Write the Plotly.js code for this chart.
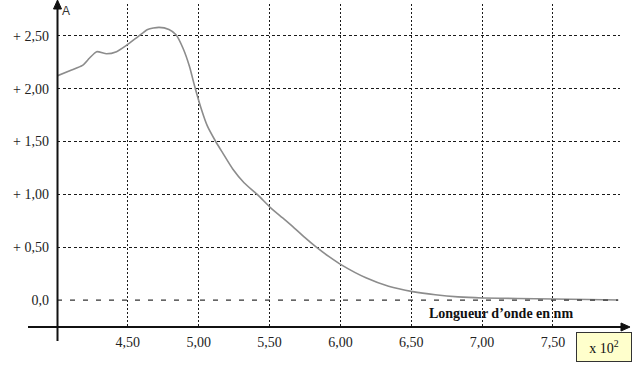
<!DOCTYPE html>
<html>
<head>
<meta charset="utf-8">
<script src="https://cdn.plot.ly/plotly-3.0.1.min.js"></script>
<style>html,body{margin:0;padding:0;background:#fff;}#chart{width:640px;height:385px;}</style>
</head>
<body>
<div id="chart"></div>
<script>
// Wavelength (x 10^2 nm)
const lambda = [4.00,4.09,4.18,4.23,4.28,4.35,4.42,4.49,4.57,4.64,4.72,4.79,4.84,4.89,4.935,4.97,5.02,5.06,5.12,5.17,5.24,5.32,5.42,5.51,5.59,5.66,5.75,5.83,5.92,6.01,6.18,6.34,6.51,6.67,6.83,7.00,7.25,7.50,7.75,7.96];
// Absorbance A
const absorbance = [2.12,2.17,2.22,2.29,2.35,2.33,2.35,2.41,2.49,2.56,2.58,2.56,2.51,2.38,2.21,2.03,1.80,1.65,1.50,1.39,1.24,1.11,0.99,0.87,0.78,0.70,0.59,0.50,0.41,0.33,0.21,0.13,0.08,0.05,0.03,0.02,0.015,0.01,0.005,0.0];

const xTickVals = [4.5,5.0,5.5,6.0,6.5,7.0,7.5];
const xTickText = ['4,50','5,00','5,50','6,00','6,50','7,00','7,50'];
const yTickVals = [0.5,1.0,1.5,2.0,2.5];
const yTickText = ['+ 0,50','+ 1,00','+ 1,50','+ 2,00','+ 2,50'];
const zeroVals = [0];
const zeroText = ['0,0'];

const serif = 'Liberation Serif, Times New Roman, serif';
const XR = [4.0, 7.973];
const YR = [-0.255, 2.801];

const traces = [
  {
    x: lambda, y: absorbance, type: 'scatter', mode: 'lines',
    line: {color: '#8c8c8c', width: 1.6, shape: 'spline', smoothing: 0.6},
    hoverinfo: 'skip', showlegend: false
  },
  {
    x: [lambda[0], lambda[lambda.length-1]], y: [0, 0], yaxis: 'y2',
    type: 'scatter', mode: 'lines',
    line: {color: '#333', width: 1.3, dash: '5px,8px'},
    hoverinfo: 'skip', showlegend: false
  }
];

const layout = {
  width: 640, height: 385,
  margin: {l: 57, r: 20, t: 4, b: 58},
  paper_bgcolor: '#fff', plot_bgcolor: '#fff',
  showlegend: false, hovermode: false,
  xaxis: {
    range: XR, tickvals: xTickVals, ticktext: xTickText,
    showgrid: true, gridcolor: '#1a1a1a', gridwidth: 1, griddash: '2px,2px',
    showline: false, zeroline: false, ticks: '',
    ticklabelstandoff: 5,
    tickfont: {family: serif, size: 14, color: '#222'}
  },
  yaxis: {
    range: YR, tickvals: yTickVals, ticktext: yTickText,
    showgrid: true, gridcolor: '#1a1a1a', gridwidth: 1, griddash: '3px,2.5px',
    showline: false, zeroline: false, ticks: '',
    ticklabelstandoff: 7,
    tickfont: {family: serif, size: 14, color: '#222'}
  },
  yaxis2: {
    range: YR, overlaying: 'y', side: 'left', tickvals: zeroVals, ticktext: zeroText,
    showgrid: false, showline: false, zeroline: false, ticks: '',
    ticklabelstandoff: 7,
    tickfont: {family: serif, size: 14, color: '#222'}
  },
  shapes: [
    {type: 'line', xref: 'paper', yref: 'paper', x0: -0.0515, x1: 1.004, y0: 0, y1: 0,
     line: {color: '#111', width: 2}},
    {type: 'path', xref: 'paper', yref: 'paper',
     path: 'M 1.0178 0 L 1.0018 0.0124 L 1.0018 -0.0124 Z',
     fillcolor: '#111', line: {color: '#111', width: 1}},
    {type: 'line', xref: 'paper', yref: 'paper', x0: 0.0009, x1: 0.0009, y0: -0.0433, y1: 0.99,
     line: {color: '#111', width: 2}},
    {type: 'path', xref: 'paper', yref: 'paper',
     path: 'M 0.0009 1.0124 L -0.0062 0.9845 L 0.008 0.9845 Z',
     fillcolor: '#111', line: {color: '#111', width: 1}}
  ],
  annotations: [
    {xref: 'paper', yref: 'paper', x: 0.0155, y: 0.979, text: 'A', showarrow: false,
     xanchor: 'center', yanchor: 'middle',
     font: {family: 'Liberation Sans, Arial, sans-serif', size: 12, color: '#333'}},
    {xref: 'paper', yref: 'paper', x: 0.7886, y: 0.0433, text: '<b>Longueur d’onde en nm</b>',
     showarrow: false, xanchor: 'center', yanchor: 'middle',
     font: {family: serif, size: 14, color: '#111'}},
    {xref: 'paper', yref: 'paper', x: 0.9716, y: -0.061, text: 'x 10<sup>2</sup>',
     showarrow: false, xanchor: 'center', yanchor: 'middle',
     width: 52, height: 26, bgcolor: '#FFFFCC', bordercolor: '#333', borderwidth: 1,
     font: {family: serif, size: 14, color: '#111'}}
  ]
};

Plotly.newPlot('chart', traces, layout, {displayModeBar: false, staticPlot: true});
</script>
</body>
</html>
